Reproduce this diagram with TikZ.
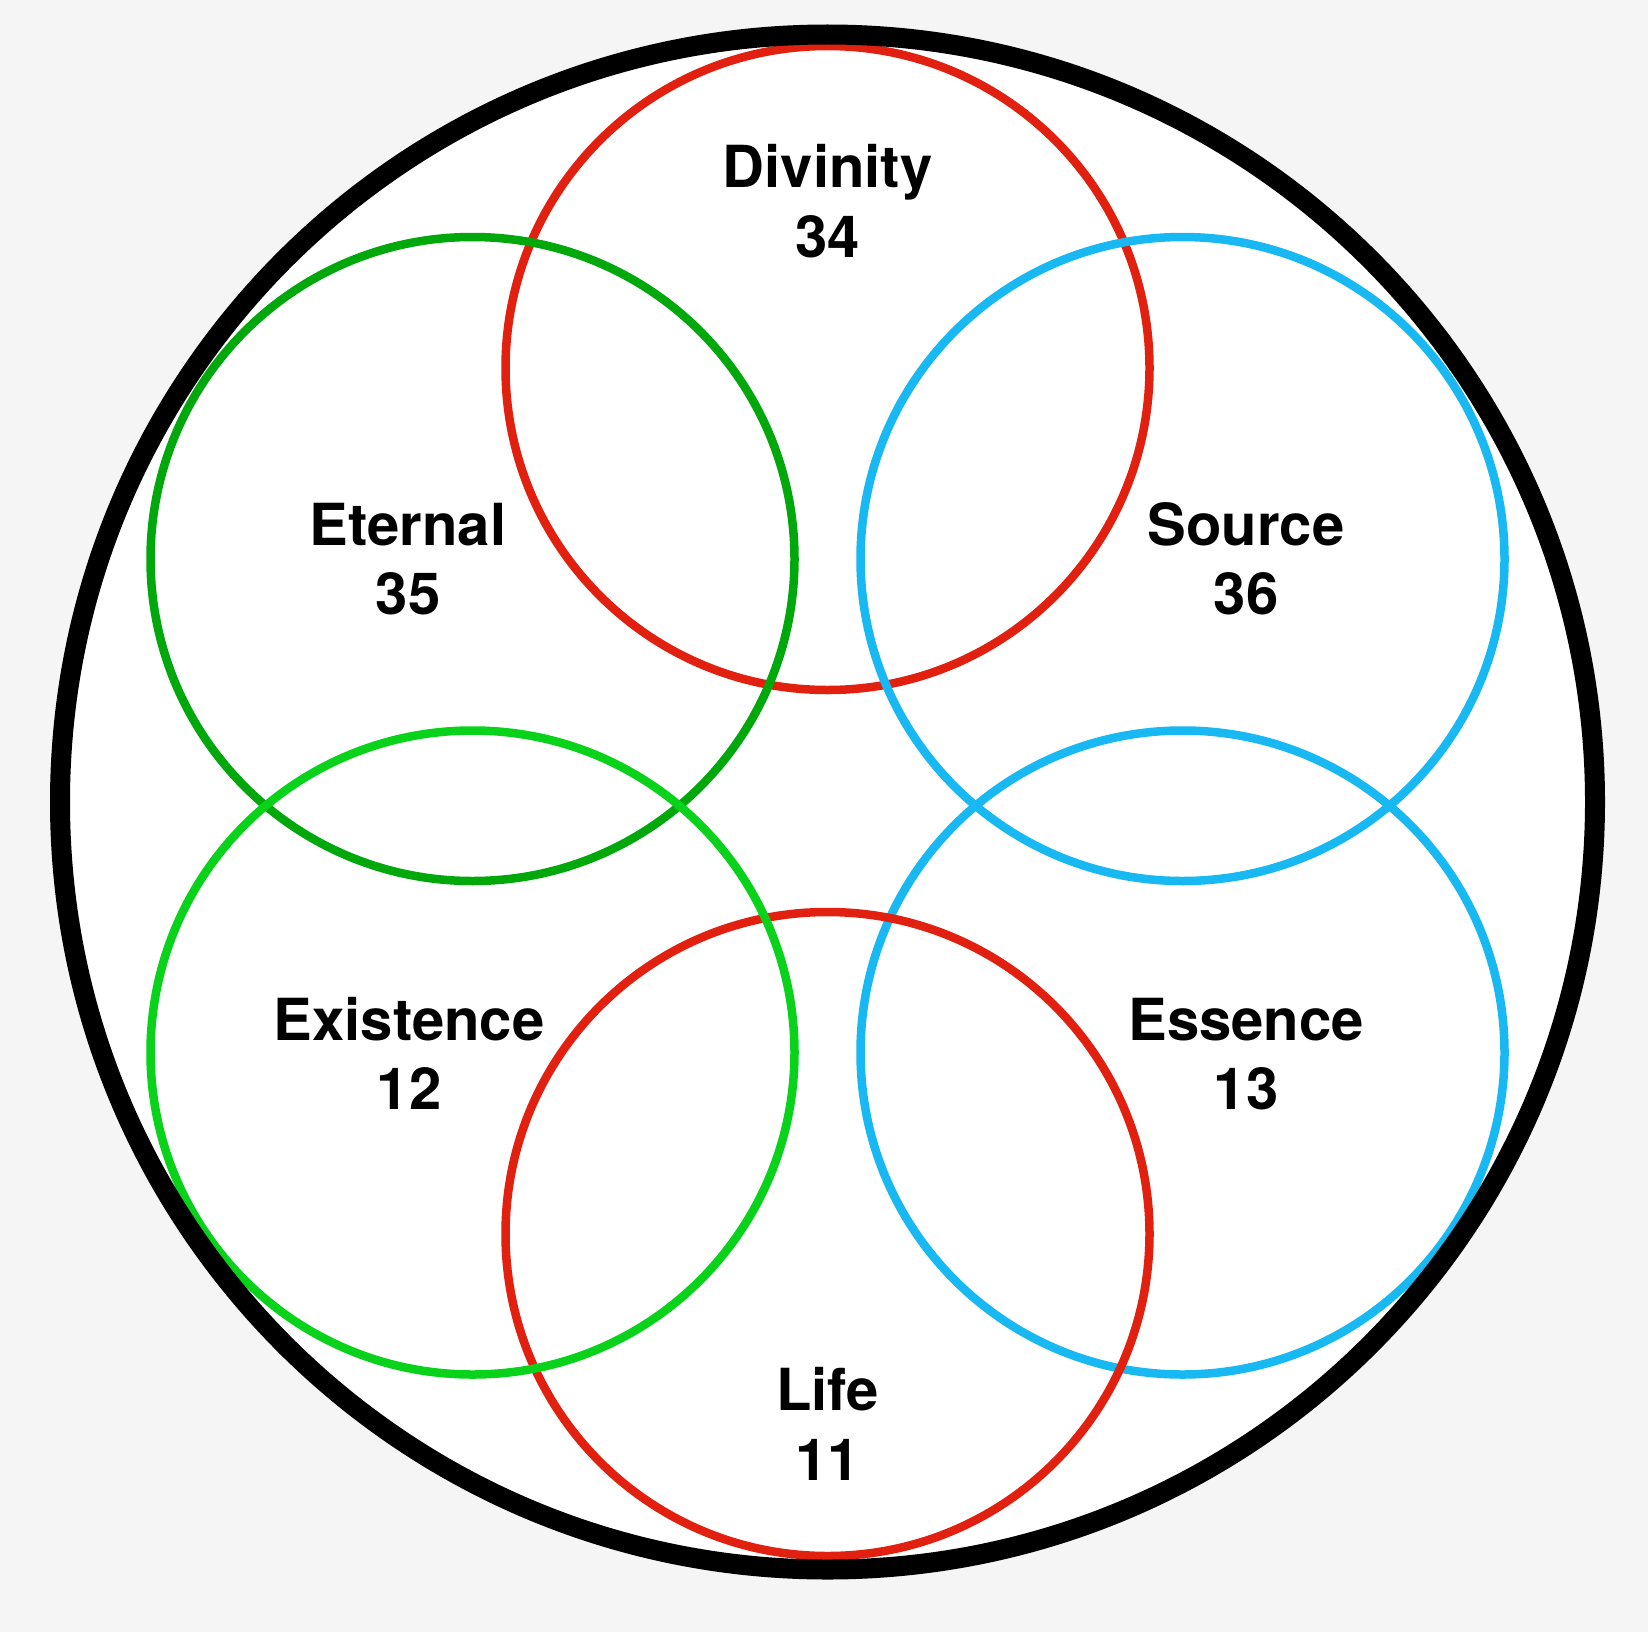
\documentclass[tikz,border=0pt]{standalone}
\usepackage{fontspec}
\setmainfont{TeX Gyre Heros}
\definecolor{bggray}{HTML}{F5F5F5}
\definecolor{cred}{HTML}{E2200F}
\definecolor{cdkgreen}{HTML}{00A80C}
\definecolor{cltgreen}{HTML}{08D21A}
\definecolor{ccyan}{HTML}{18B8F2}
\tikzset{
  ring/.style={line width=8.5pt},
  lbl/.style={anchor=base, inner sep=0pt, font=\fontsize{58}{62}\selectfont\bfseries}
}
\begin{document}
\begin{tikzpicture}[x=1pt,y=-1pt]
\fill[bggray] (0,0) rectangle (1648,1632);
\useasboundingbox (0,0) rectangle (1648,1632);
\fill[white] (827.5,802) circle (767.5);
% circles
\draw[ring,cred] (827.5,368) circle (322);
\draw[ring,cdkgreen] (472.5,559) circle (322);
\draw[ring,ccyan] (1182.5,559) circle (322);
\draw[ring,ccyan] (1182.5,1052.5) circle (322);
\draw[ring,cred] (827.5,1234) circle (322);
\draw[ring,cltgreen] (472.5,1052.5) circle (322);
\draw[line width=20pt,black] (827.5,802) circle (767.5);
% labels
\node[lbl] (divinity) at (827.5,188) {Divinity};
\node[lbl] (n34) at (827.5,257) {34};
\node[lbl] (eternal) at (408,545) {Eternal};
\node[lbl] (n35) at (408,614) {35};
\node[lbl] (source) at (1246,545) {Source};
\node[lbl] (n36) at (1246,614) {36};
\node[lbl] (existence) at (409,1040) {Existence};
\node[lbl] (n12) at (409,1109) {12};
\node[lbl] (essence) at (1246,1040) {Essence};
\node[lbl] (n13) at (1246,1109) {13};
\node[lbl] (life) at (827.5,1410) {Life};
\node[lbl] (n11) at (827.5,1480) {11};
\end{tikzpicture}
\end{document}
